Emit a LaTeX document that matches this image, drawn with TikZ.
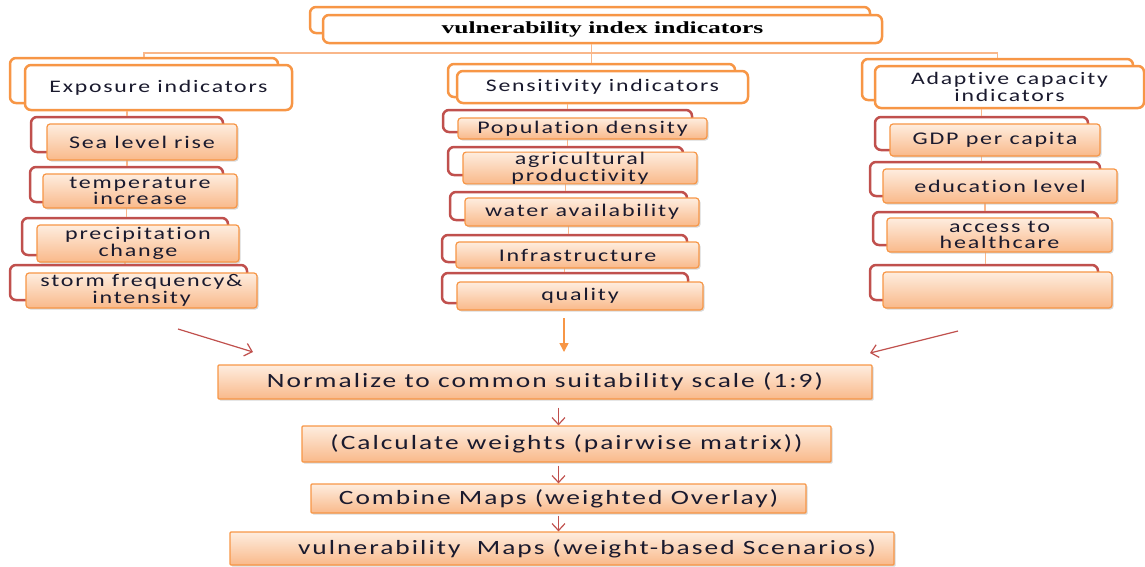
\documentclass[tikz,border=0pt]{standalone}
\usepackage{fontspec}
\setmainfont[FakeStretch=1.35,LetterSpace=10,Ligatures=NoCommon]{Carlito}
\newfontfamily\titlefont[FakeStretch=1.5]{Liberation Serif}
\usetikzlibrary{arrows.meta,shadows}
\definecolor{accorange}{HTML}{F79646}
\definecolor{accred}{HTML}{C0504D}
\definecolor{boxtop}{HTML}{FEEDDF}
\definecolor{boxbot}{HTML}{F9B98A}
\definecolor{busorange}{HTML}{F9B78A}
\definecolor{inktext}{HTML}{1A1A2E}

\begin{document}
\begin{tikzpicture}
        [x=1pt, y=-1pt,
         backbox/.style={draw=accorange, line width=2.5pt, rounded corners=6pt, fill=white},
         headbox/.style={backbox, align=center, inner sep=0pt, text=inktext, font=\fontsize{17.6}{16.5}\selectfont},
         itemback/.style={draw=accred, line width=2.5pt, rounded corners=6pt, fill=white},
         itembox/.style={draw=accorange, line width=1.2pt, rounded corners=3pt, top color=boxtop, bottom color=boxbot,
                         drop shadow={shadow xshift=1.5pt, shadow yshift=-1.5pt, fill=black!30, opacity=.5},
                         align=center, inner sep=0pt, text=inktext, font=\fontsize{17.8}{16.5}\selectfont},
         stepbox/.style={itembox, rounded corners=1pt, font=\fontsize{20.3}{21}\selectfont},
         busline/.style={draw=busorange, line width=1.5pt},
         link/.style={draw=busorange, line width=1.2pt},
         redarrow/.style={draw=accred, line width=1.2pt, -{Straight Barb[length=7pt,width=13pt]}},
         feedarrow/.style={draw=accorange, line width=1.5pt, -{Triangle[length=9pt,width=9pt]}}]
        \useasboundingbox (0,0) rectangle (1145,566);

        % title
        \node [backbox, minimum width=560pt, minimum height=26pt] (titleback) at (590,20) {};
        \node [backbox, minimum width=559pt, minimum height=28pt, font=\titlefont\bfseries\fontsize{17}{19}\selectfont] (title) at (602.5,29) {vulnerability index indicators};

        % three groups
        \node [backbox, minimum width=268pt, minimum height=45pt] (expoback) at (144,80.5) {};
        \node [headbox, minimum width=267pt, minimum height=45pt] (expo) at (158.5,87.5) {Exposure indicators};
        \node [backbox, minimum width=287pt, minimum height=33pt] (sensback) at (591.5,80.5) {};
        \node [headbox, minimum width=291pt, minimum height=32pt] (sens) at (602.5,87) {Sensitivity indicators};
        \node [backbox, minimum width=271pt, minimum height=41pt] (adaptback) at (997.5,79.5) {};
        \node [headbox, minimum width=269pt, minimum height=42pt] (adapt) at (1009.5,87) {Adaptive capacity\\indicators};

        \coordinate (bus) at (592,53);
        \draw [busline] (expoback.north) |- (bus) -| (adaptback.north);
        \draw [busline] (title.south -| sensback.north) -- (sensback.north);

        % item frames
        \node [itemback, minimum width=192pt, minimum height=35pt] (e1back) at (127,134.5) {};
        \node [itemback, minimum width=193pt, minimum height=35pt] (e2back) at (126.5,184.5) {};
        \node [itemback, minimum width=206pt, minimum height=37pt] (e3back) at (125,236.5) {};
        \node [itemback, minimum width=237pt, minimum height=35pt] (e4back) at (128.5,282.5) {};
        \node [itemback, minimum width=249pt, minimum height=22pt] (s1back) at (567.5,121) {};
        \node [itemback, minimum width=235pt, minimum height=28pt] (s2back) at (565.5,161) {};
        \node [itemback, minimum width=237pt, minimum height=28pt] (s3back) at (568.5,206) {};
        \node [itemback, minimum width=245pt, minimum height=27pt] (s4back) at (564.5,248.5) {};
        \node [itemback, minimum width=246pt, minimum height=30pt] (s5back) at (565,288) {};
        \node [itemback, minimum width=213pt, minimum height=33pt] (a1back) at (981.5,133.5) {};
        \node [itemback, minimum width=230pt, minimum height=34pt] (a2back) at (985,179) {};
        \node [itemback, minimum width=225pt, minimum height=33pt] (a3back) at (985.5,228.5) {};
        \node [itemback, minimum width=228pt, minimum height=35pt] (a4back) at (984,282.5) {};

        \draw [link] (expo.south -| e1back.north) -- (e1back.north);
        \draw [link] (e1back.south) -- (e1back.south |- e2back.north);
        \draw [link] (e2back.south) -- (e2back.south |- e3back.north);
        \draw [link] (e3back.south) -- (e3back.south |- e4back.north);
        \draw [link] (sens.south -| s1back.north) -- (s1back.north);
        \draw [link] (s1back.south) -- (s1back.south |- s2back.north);
        \draw [link] (s2back.south) -- (s2back.south |- s3back.north);
        \draw [link] (s3back.south) -- (s3back.south |- s4back.north);
        \draw [link] (s4back.south) -- (s4back.south |- s5back.north);
        \draw [link] (adapt.south -| a1back.north) -- (a1back.north);
        \draw [link] (a1back.south) -- (a1back.south |- a2back.north);
        \draw [link] (a2back.south) -- (a2back.south |- a3back.north);
        \draw [link] (a3back.south) -- (a3back.south |- a4back.north);

        % items
        \node [itembox, minimum width=190pt, minimum height=36pt] (e1) at (142,142) {Sea level rise};
        \node [itembox, minimum width=194pt, minimum height=34pt] (e2) at (140,191) {temperature\\increase};
        \node [itembox, minimum width=202pt, minimum height=37pt] (e3) at (138,243.5) {precipitation\\change};
        \node [itembox, minimum width=231pt, minimum height=35pt] (e4) at (141.5,290.5) {storm frequency\&\\intensity};
        \node [itembox, minimum width=249pt, minimum height=21pt] (s1) at (582.5,128.5) {Population density};
        \node [itembox, minimum width=234pt, minimum height=28pt] (s2) at (580,168) {agricultural\\productivity};
        \node [itembox, minimum width=234pt, minimum height=28pt] (s3) at (582,212) {water availability};
        \node [itembox, minimum width=243pt, minimum height=26pt] (s4) at (577.5,255) {Infrastructure};
        \node [itembox, minimum width=246pt, minimum height=28pt] (s5) at (580,296) {quality};
        \node [itembox, minimum width=210pt, minimum height=32pt] (a1) at (995,140) {GDP per capita};
        \node [itembox, minimum width=234pt, minimum height=34pt] (a2) at (1000,186) {education level};
        \node [itembox, minimum width=225pt, minimum height=34pt] (a3) at (999.5,235) {access to\\healthcare};
        \node [itembox, minimum width=229pt, minimum height=36pt] (a4) at (997.5,290) {};

        % steps
        \node [stepbox, minimum width=654pt, minimum height=34pt] (norm) at (545,382) {Normalize to common suitability scale (1:9)};
        \node [stepbox, minimum width=529pt, minimum height=36pt] (weights) at (566.5,444) {(Calculate weights (pairwise matrix))};
        \node [stepbox, minimum width=495pt, minimum height=29pt] (combine) at (558.5,498.5) {Combine Maps (weighted Overlay)};
        \node [stepbox, minimum width=664pt, minimum height=33pt] (vmaps) at (562,548.5) {\hspace*{50pt}vulnerability~ Maps (weight-based Scenarios)};

        \coordinate (leftfrom) at (178,329);
        \coordinate (leftto) at (253,352);
        \coordinate (midfrom) at (564,318);
        \coordinate (midto) at (564,352);
        \coordinate (rightfrom) at (958,331);
        \coordinate (rightto) at (870,353);
        \draw [redarrow] (leftfrom) -- (leftto);
        \draw [feedarrow] (midfrom) -- (midto);
        \draw [redarrow] (rightfrom) -- (rightto);

        \draw [redarrow] (norm.south -| combine.north) ++(0,8) -- (weights.north -| combine.north);
        \draw [redarrow] (weights.south -| combine.north) ++(0,3) -- (combine.north);
        \draw [redarrow] (combine.south) ++(0,2) -- (vmaps.north -| combine.north);
    \end{tikzpicture}
\end{document}
